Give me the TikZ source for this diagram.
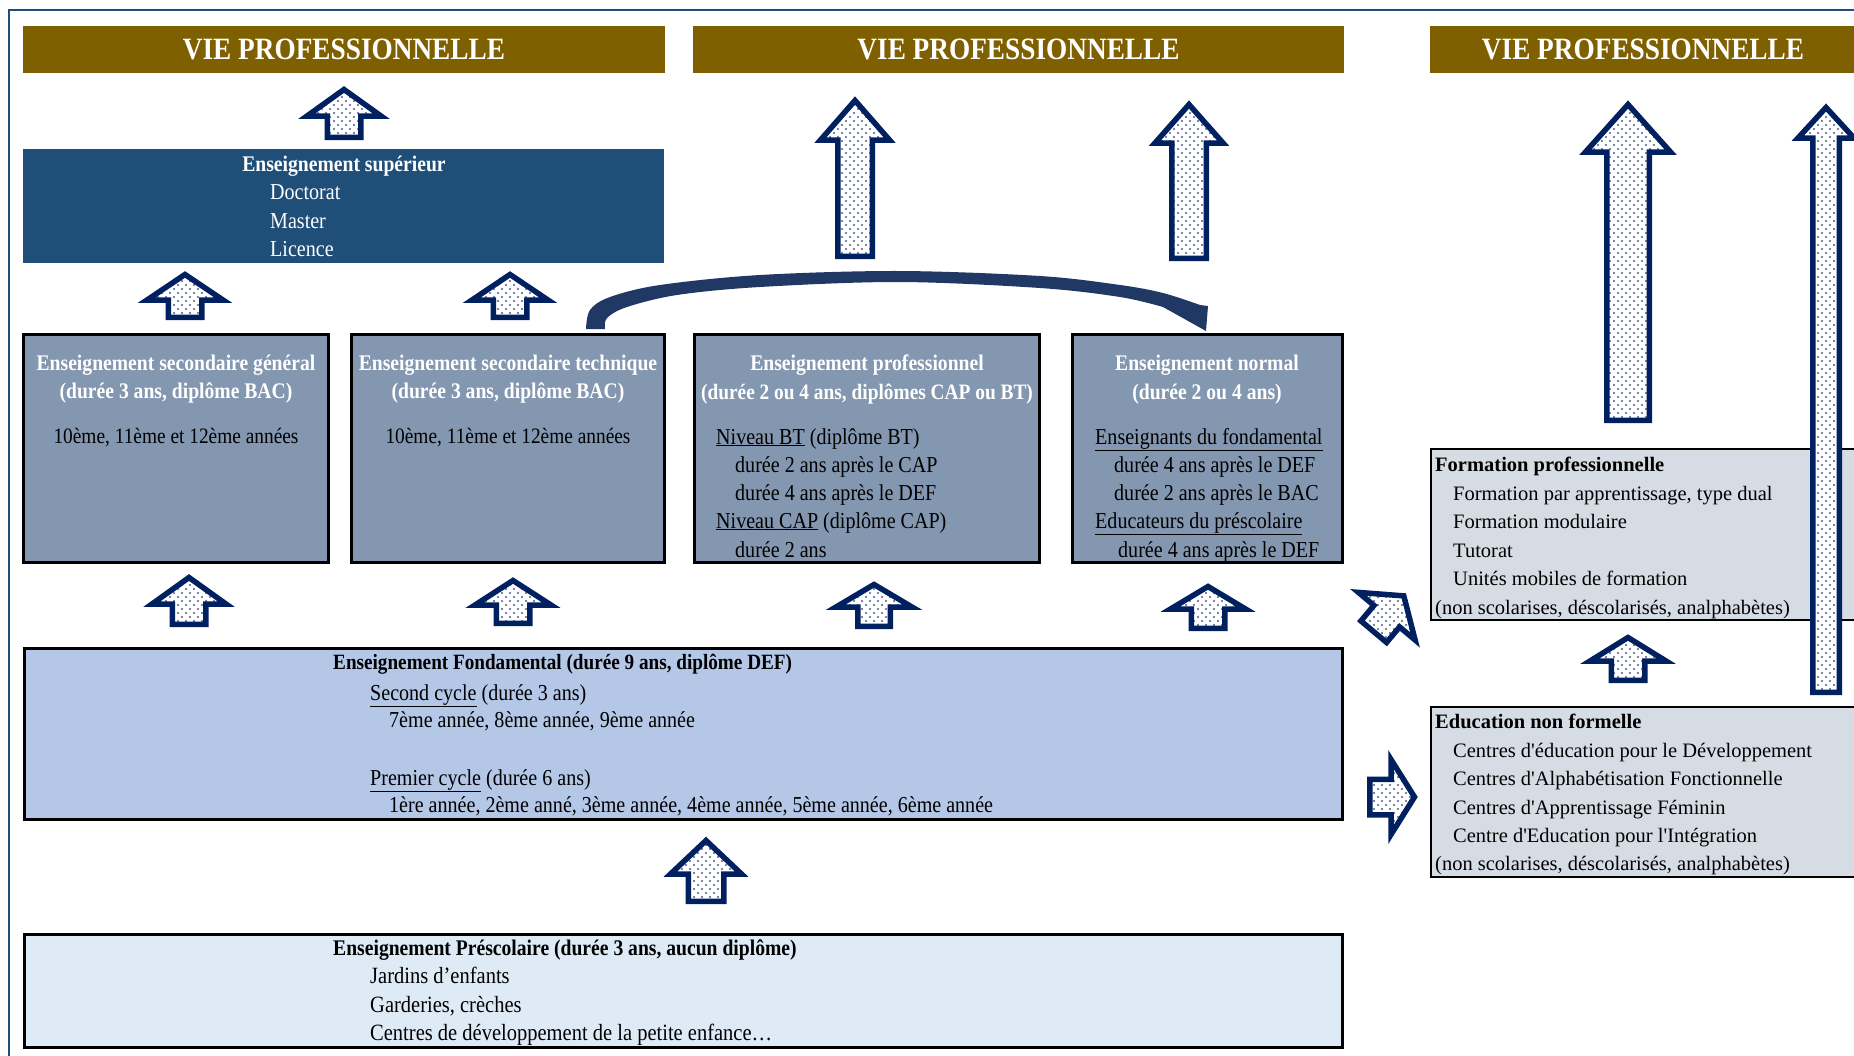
\documentclass[tikz,border=0pt]{standalone}
\usepackage{fontspec}
\setmainfont{Liberation Serif}[Ligatures=TeXOff]
\newfontfamily\cf{Liberation Serif}[FakeStretch=0.88]
\usetikzlibrary{patterns}
\definecolor{bannerc}{HTML}{7F6000}
\definecolor{supc}{HTML}{1F4E79}
\definecolor{secc}{HTML}{8497B0}
\definecolor{fondc}{HTML}{B4C7E7}
\definecolor{prec}{HTML}{DEEBF7}
\definecolor{rboxc}{HTML}{D6DCE4}
\definecolor{navyc}{HTML}{002060}
\definecolor{dotc}{HTML}{4C5E8C}
\definecolor{curvec}{HTML}{203864}
\definecolor{framec}{HTML}{1F4E79}
\pgfdeclarepatternformonly{sdots}{\pgfqpoint{-1pt}{-1pt}}{\pgfqpoint{9pt}{9pt}}{\pgfqpoint{8pt}{8pt}}{%
  \pgfpathcircle{\pgfqpoint{2pt}{2pt}}{1.2pt}%
  \pgfpathcircle{\pgfqpoint{6pt}{6pt}}{1.2pt}%
  \pgfusepath{fill}}
% block arrow: cx, cy, rotation, length, head height, head width, shaft width
\newcommand\barrow[7]{%
  \begin{scope}[shift={(#1,#2)}, rotate=#3]
    \draw[blockarr] ({-#7/2+2.75},{#4/2-2.75}) -- ({-#7/2+2.75},{-#4/2+#5-1}) -- ({-#6/2+6},{-#4/2+#5-1})
      -- (0,{-#4/2+3.5}) -- ({#6/2-6},{-#4/2+#5-1}) -- ({#7/2-2.75},{-#4/2+#5-1}) -- ({#7/2-2.75},{#4/2-2.75}) -- cycle;
  \end{scope}}
\begin{document}
\begin{tikzpicture}[x=1pt,y=-1pt,
  box/.style={draw=black, line width=2.5pt, inner sep=0pt, outer sep=0pt},
  banner/.style={fill=bannerc, inner sep=0pt, minimum height=47pt, text=white, font=\cf\bfseries\fontsize{31}{36}\selectfont},
  hdr/.style={anchor=base, inner sep=0pt, text=white, font=\cf\bfseries\fontsize{22.3}{26}\selectfont},
  ctx/.style={anchor=base, inner sep=0pt, font=\cf\fontsize{22}{26}\selectfont},
  ltx/.style={anchor=base west, inner sep=0pt, font=\cf\fontsize{22.8}{26}\selectfont},
  ftx/.style={anchor=base west, inner sep=0pt, font=\cf\fontsize{23.3}{26}\selectfont},
  lbx/.style={ltx, font=\cf\bfseries\fontsize{21.8}{26}\selectfont},
  rtx/.style={anchor=base west, inner sep=0pt, font=\fontsize{20.5}{24}\selectfont},
  rbx/.style={rtx, font=\bfseries\fontsize{20.5}{24}\selectfont},
  blockarr/.style={draw=navyc, line width=5.5pt, line join=miter, preaction={fill=white}, pattern=sdots, pattern color=dotc}]
\useasboundingbox (0,0) rectangle (1854,1055);
\clip (0,0) rectangle (1854,1055);
\fill[white] (0,0) rectangle (1854,1055);
\draw[framec, line width=2pt] (8.5,1070) -- (8.5,10) -- (1870,10);

% banners
\node[banner, minimum width=642pt] (ban1) at (344,49.5) {VIE PROFESSIONNELLE};
\node[banner, minimum width=651pt] (ban2) at (1018.5,49.5) {VIE PROFESSIONNELLE};
\node[banner, minimum width=440pt] (ban3) at (1650,49.5) {};
\node[banner, fill=none] (ban3t) at (1643,49.5) {VIE PROFESSIONNELLE};

% enseignement superieur
\node[fill=supc, inner sep=0pt, minimum width=641pt, minimum height=114pt] (sup) at (343.5,206) {};
\node[hdr] (supt) at (344,171) {Enseignement supérieur};
\node[ltx, text=white] (sup1) at (270,199) {Doctorat};
\node[ltx, text=white] (sup2) at (270,228) {Master};
\node[ltx, text=white] (sup3) at (270,256) {Licence};

% secondary boxes
\node[box, fill=secc, minimum width=305pt, minimum height=228pt] (sec1) at (176,448.5) {};
\node[box, fill=secc, minimum width=313pt, minimum height=228pt] (sec2) at (508,448.5) {};
\node[box, fill=secc, minimum width=345pt, minimum height=228pt] (sec3) at (867,448.5) {};
\node[box, fill=secc, minimum width=270pt, minimum height=228pt] (sec4) at (1207.5,448.5) {};

\node[hdr] (s1a) at (176,370) {Enseignement secondaire général};
\node[hdr] (s1b) at (176,398) {(durée 3 ans, diplôme BAC)};
\node[ctx] (s1c) at (176,443) {10ème, 11ème et 12ème années};

\node[hdr] (s2a) at (508,370) {Enseignement secondaire technique};
\node[hdr] (s2b) at (508,398) {(durée 3 ans, diplôme BAC)};
\node[ctx] (s2c) at (508,443) {10ème, 11ème et 12ème années};

\node[hdr] (s3a) at (867,370) {Enseignement professionnel};
\node[hdr, font=\cf\bfseries\fontsize{22}{26}\selectfont] (s3b) at (867,399) {(durée 2 ou 4 ans, diplômes CAP ou BT)};
\node[ltx] (s3c) at (716,444) {\underline{Niveau BT} (diplôme BT)};
\node[ltx] (s3d) at (735,472) {durée 2 ans après le CAP};
\node[ltx] (s3e) at (735,500) {durée 4 ans après le DEF};
\node[ltx] (s3f) at (716,528) {\underline{Niveau CAP} (diplôme CAP)};
\node[ltx] (s3g) at (735,557) {durée 2 ans};

\node[hdr] (s4a) at (1207,370) {Enseignement normal};
\node[hdr] (s4b) at (1207,399) {(durée 2 ou 4 ans)};
\node[ltx] (s4c) at (1095,444) {\underline{Enseignants du fondamental}};
\node[ltx] (s4d) at (1114,472) {durée 4 ans après le DEF};
\node[ltx] (s4e) at (1114,500) {durée 2 ans après le BAC};
\node[ltx] (s4f) at (1095,528) {\underline{Educateurs du préscolaire}};
\node[ltx] (s4g) at (1118,557) {durée 4 ans après le DEF};

% fondamental
\node[box, fill=fondc, minimum width=1318pt, minimum height=171pt] (fond) at (683.5,734) {};
\node[lbx] (f1) at (333,669) {Enseignement Fondamental (durée 9 ans, diplôme DEF)};
\node[ltx] (f2) at (370,700) {\underline{Second cycle} (durée 3 ans)};
\node[ltx] (f3) at (389,727) {7ème année, 8ème année, 9ème année};
\node[ltx] (f4) at (370,785) {\underline{Premier cycle} (durée 6 ans)};
\node[ltx] (f5) at (389,812) {1ère année, 2ème anné, 3ème année, 4ème année, 5ème année, 6ème année};

% prescolaire
\node[box, fill=prec, minimum width=1318pt, minimum height=113pt] (presc) at (683.5,991) {};
\node[lbx, font=\cf\bfseries\fontsize{22.3}{26}\selectfont] (p1) at (333,955) {Enseignement Préscolaire (durée 3 ans, aucun diplôme)};
\node[ftx] (p2) at (370,983) {Jardins d’enfants};
\node[ftx] (p3) at (370,1012) {Garderies, crèches};
\node[ftx] (p4) at (370,1040) {Centres de développement de la petite enfance…};

% right boxes
\node[box, line width=2pt, fill=rboxc, minimum width=430pt, minimum height=171pt] (fp) at (1646,534) {};
\node[rbx] (fp1) at (1435,471) {Formation professionnelle};
\node[rtx] (fp2) at (1453,500) {Formation par apprentissage, type dual};
\node[rtx] (fp3) at (1453,528) {Formation modulaire};
\node[rtx] (fp4) at (1453,557) {Tutorat};
\node[rtx] (fp5) at (1453,585) {Unités mobiles de formation};
\node[rtx] (fp6) at (1435,614) {(non scolarises, déscolarisés, analphabètes)};

\node[box, line width=2pt, fill=rboxc, minimum width=430pt, minimum height=170pt] (enf) at (1646,791.5) {};
\node[rbx] (e1) at (1435,728) {Education non formelle};
\node[rtx] (e2) at (1453,757) {Centres d'éducation pour le Développement};
\node[rtx] (e3) at (1453,785) {Centres d'Alphabétisation Fonctionnelle};
\node[rtx] (e4) at (1453,814) {Centres d'Apprentissage Féminin};
\node[rtx] (e5) at (1453,842) {Centre d'Education pour l'Intégration};
\node[rtx] (e6) at (1435,870) {(non scolarises, déscolarisés, analphabètes)};

% block arrows
\barrow{344}{113}{0}{54}{31}{86}{39}
\barrow{185}{295.5}{0}{49}{30}{88}{39}
\barrow{510}{295.5}{0}{49}{30}{88}{39}
\barrow{189}{600.5}{0}{53}{31}{86}{39}
\barrow{513}{601.5}{0}{49}{29}{88}{39}
\barrow{874}{605}{0}{48}{27}{88}{38}
\barrow{1208}{607}{0}{48}{27}{87}{39}
\barrow{706}{870.5}{0}{67}{38}{83}{41}
\barrow{855}{178}{0}{162}{44}{81}{40}
\barrow{1189}{181}{0}{160}{43}{80}{40}
\barrow{1628}{262}{0}{322}{52}{97}{48}
\barrow{1628}{658.5}{0}{49}{28}{88}{39}
\barrow{1389}{613.5}{-40}{53}{31}{86}{39}
\barrow{1392.5}{797}{-90}{51}{28}{87}{41}
\barrow{1826}{399.5}{0}{591}{35}{68}{32}

% curved arrow from technical secondary to normal
\fill[curvec] plot[smooth, tension=0.55] coordinates {(586,329) (590,310) (610,297) (660,285) (760,275) (899,271) (1040,276) (1120,285) (1163,293) (1200,305)}
  -- (1208,306) -- (1206,331)
  -- plot[smooth, tension=0.55] coordinates {(1163,307) (1120,297) (1040,288) (899,282) (760,287) (677,295) (627,307) (607,318) (605,329)} -- cycle;
\end{tikzpicture}
\end{document}
